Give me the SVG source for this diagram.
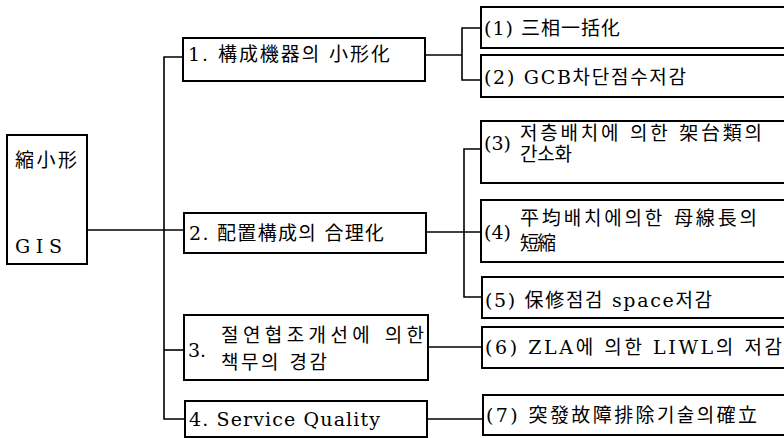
<svg xmlns="http://www.w3.org/2000/svg" width="784" height="438" viewBox="0 0 784 438">
<style>
.box{fill:#fff;stroke:#000;stroke-width:2}
.ln{fill:none;stroke:#000;stroke-width:1.6}
text{font-family:"DejaVu Serif","Noto Sans CJK KR",serif;font-size:19px;fill:#000}
</style>
<rect width="784" height="438" fill="#fff"/>
<g id="connectors">
<path class="ln" d="M87 230H184"/>
<path class="ln" d="M183 57H164V419H185"/>
<path class="ln" d="M164 350H184"/>
<path class="ln" d="M425 55H462"/>
<path class="ln" d="M481 28H462V80H481"/>
<path class="ln" d="M426 232H481"/>
<path class="ln" d="M481 149H464V297H482"/>
<path class="ln" d="M428 347H482"/>
<path class="ln" d="M427 419H483"/>
</g>
<g id="root">
<rect class="box" x="7" y="135" width="80" height="129"/>
<text x="15" y="167" font-size="20" textLength="62" lengthAdjust="spacing">縮小形</text>
<text x="15" y="253" textLength="47" lengthAdjust="spacing">GIS</text>
</g>
<g id="n1">
<rect class="box" x="183" y="38" width="242" height="43"/>
<text x="188" y="61" textLength="202" lengthAdjust="spacing">1. 構成機器의 小形化</text>
</g>
<g id="n2">
<rect class="box" x="184" y="213" width="242" height="40"/>
<text x="189" y="240" textLength="195" lengthAdjust="spacing">2. 配置構成의 合理化</text>
</g>
<g id="n3">
<rect class="box" x="184" y="315" width="244" height="65"/>
<text x="188" y="357">3.</text>
<text x="221" y="342" textLength="203" lengthAdjust="spacing">절연협조개선에 의한</text>
<text x="221" y="369" textLength="106" lengthAdjust="spacing">책무의 경감</text>
</g>
<g id="n4">
<rect class="box" x="185" y="401" width="242" height="36"/>
<text x="189" y="426" textLength="191" lengthAdjust="spacing">4. Service Quality</text>
</g>
<g id="r1">
<rect class="box" x="481" y="7" width="320" height="41"/>
<text x="484" y="35" textLength="136" lengthAdjust="spacing">(1) 三相一括化</text>
</g>
<g id="r2">
<rect class="box" x="481" y="55" width="320" height="42"/>
<text x="484" y="84" textLength="202" lengthAdjust="spacing">(2) GCB차단점수저감</text>
</g>
<g id="r3">
<rect class="box" x="481" y="121" width="320" height="62"/>
<text x="484" y="150">(3)</text>
<text x="520" y="140" textLength="242" lengthAdjust="spacing">저층배치에 의한 架台類의</text>
<text x="520" y="161" textLength="52" lengthAdjust="spacing">간소화</text>
</g>
<g id="r4">
<rect class="box" x="481" y="200" width="320" height="62"/>
<text x="484" y="239">(4)</text>
<text x="520" y="225" textLength="237" lengthAdjust="spacing">平均배치에의한 母線長의</text>
<text x="520" y="250" textLength="36" lengthAdjust="spacing">短縮</text>
</g>
<g id="r5">
<rect class="box" x="482" y="277" width="320" height="41"/>
<text x="485" y="307" textLength="227" lengthAdjust="spacing">(5) 保修점검 space저감</text>
</g>
<g id="r6">
<rect class="box" x="482" y="327" width="320" height="41"/>
<text x="485" y="354" textLength="297" lengthAdjust="spacing">(6) ZLA에 의한 LIWL의 저감</text>
</g>
<g id="r7">
<rect class="box" x="483" y="395" width="320" height="40"/>
<text x="486" y="422" textLength="271" lengthAdjust="spacing">(7) 突發故障排除기술의確立</text>
</g>
</svg>
